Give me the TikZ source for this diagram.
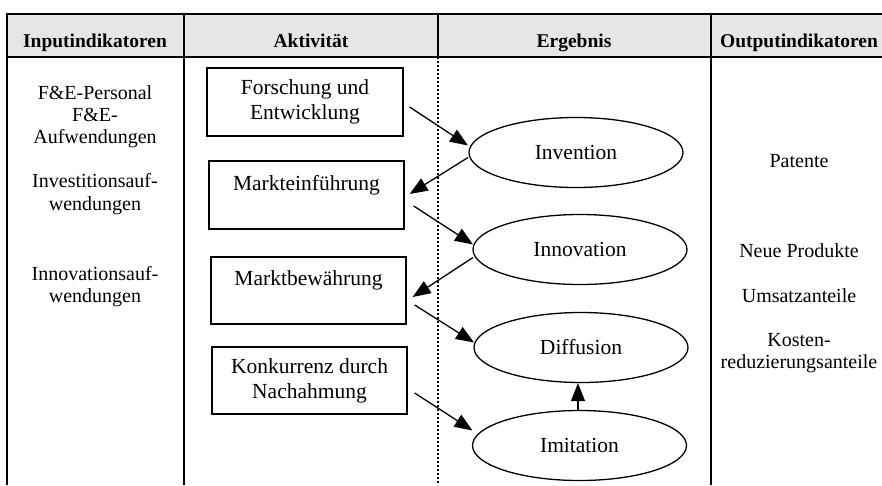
\documentclass[tikz,border=0pt]{standalone}
\usepackage{fontspec}
\setmainfont{Liberation Serif}
\usetikzlibrary{shapes.geometric,arrows.meta,calc}
\definecolor{hdr}{HTML}{E6E6E6}
\begin{document}
\begin{tikzpicture}[x=1pt,y=-1pt,
  box/.style={draw,line width=1.3pt,minimum width=195pt,minimum height=68pt,inner sep=0pt,align=center,font=\fontsize{21.5}{25}\selectfont},
  ell/.style={draw,ellipse,line width=1.3pt,minimum width=214pt,minimum height=70pt,inner sep=0pt,font=\fontsize{21.5}{25}\selectfont},
  arr/.style={line width=1.3pt,-{Triangle[length=18pt,width=14pt]}},
  side/.style={anchor=base,font=\fontsize{20}{22}\selectfont,inner sep=0pt},
  head/.style={anchor=base,font=\fontsize{19.5}{22}\selectfont\bfseries,inner sep=0pt},
  frame/.style={line width=2pt}]
\useasboundingbox (0,0) rectangle (882,485);
% header
\fill[hdr] (7,14) rectangle (882,57);
\draw[frame] (882,14) -- (7,14) -- (7,485);
\draw[frame] (7,57) -- (882,57);
\draw[frame] (184,14) -- (184,485);
\draw[frame] (438,14) -- (438,57);
\draw[frame] (711,14) -- (711,485);
\draw[line width=2pt,dash pattern=on 2pt off 2pt] (438,57) -- (438,485);
\node[head] (h1) at (95,47) {Inputindikatoren};
\node[head] (h2) at (311,47) {Aktivität};
\node[head] (h3) at (574,47) {Ergebnis};
\node[head] (h4) at (799,47) {Outputindikatoren};
% input texts
\node[side] (i1) at (95,99) {F\&E-Personal};
\node[side] (i2) at (95,121) {F\&E-};
\node[side] (i3) at (95,143) {Aufwendungen};
\node[side] (i4) at (95,187) {Investitionsauf-};
\node[side] (i5) at (95,210) {wendungen};
\node[side] (i6) at (95,280) {Innovationsauf-};
\node[side] (i7) at (95,302) {wendungen};
% output texts
\node[side] (o1) at (799,167) {Patente};
\node[side] (o2) at (799,257) {Neue Produkte};
\node[side] (o3) at (799,302) {Umsatzanteile};
\node[side] (o4) at (799,346) {Kosten-};
\node[side] (o5) at (799,368) {reduzierungsanteile};
% activity boxes
\node[box,minimum width=196pt] (fe) at (305,102) {Forschung und\\Entwicklung};
\node[box] (mk) at (306.5,195) {Markteinführung\\\mbox{}};
\node[box,minimum height=67pt] (mb) at (308.5,290.5) {Marktbewährung\\\mbox{}};
\node[box,minimum height=67pt] (kn) at (309.5,380.5) {Konkurrenz durch\\Nachahmung};
% result ellipses
\node[ell] (inv) at (576,152.5) {\raisebox{-2pt}{Invention}};
\node[ell] (inn) at (580,249.5) {\raisebox{-2pt}{Innovation}};
\node[ell] (dif) at (581,347.5) {\raisebox{-2pt}{Diffusion}};
\node[ell] (imi) at (579.5,445.5) {\raisebox{-2pt}{Imitation}};
% arrows
\draw[arr] ($(fe.east)+(6,5)$) -- ($(inv.center)+(-108,-7)$);
\draw[arr] ($(inv.center)+(-108,5)$) -- ($(mk.east)+(5,-1)$);
\draw[arr] ($(mk.east)+(9,11)$) -- ($(inn.center)+(-107,-5)$);
\draw[arr] ($(inn.center)+(-107,8)$) -- ($(mb.east)+(6,6.5)$);
\draw[arr] ($(mb.east)+(8,14.5)$) -- ($(dif.center)+(-107,-5)$);
\draw[arr] ($(kn.east)+(7,12.5)$) -- ($(imi.center)+(-107,-15)$);
\draw[arr] ($(imi.north)+(-1.5,1)$) -- ($(dif.south)+(-3,0)$);
\end{tikzpicture}
\end{document}
